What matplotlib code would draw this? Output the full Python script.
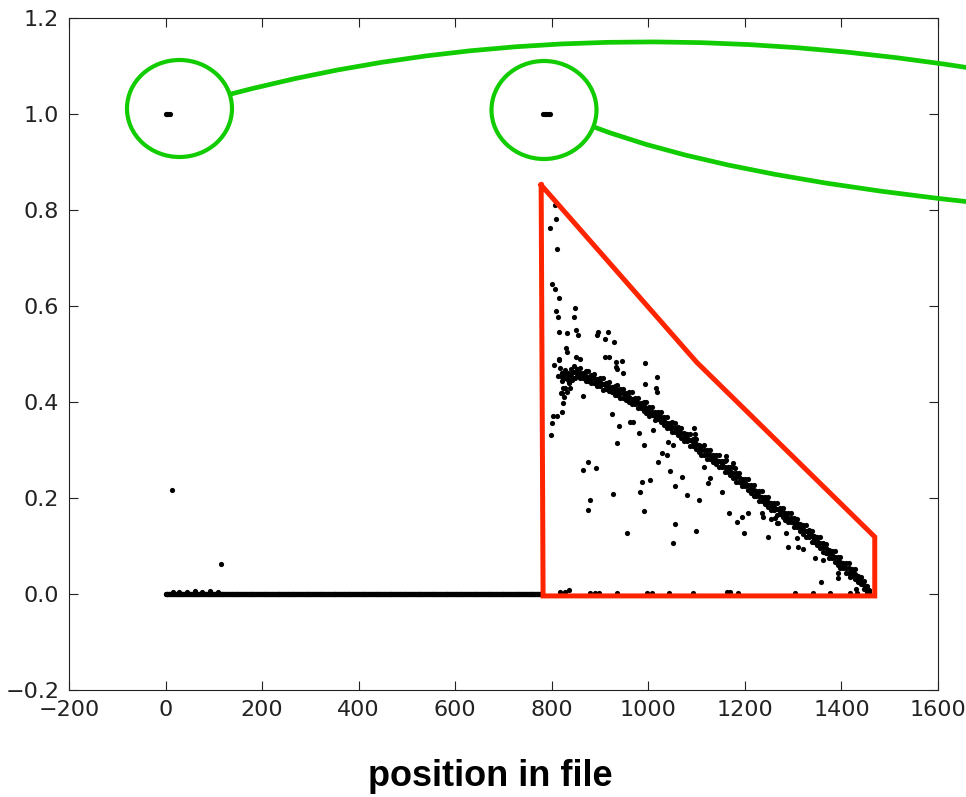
import numpy as np
import matplotlib
matplotlib.use("Agg")
import matplotlib.pyplot as plt
from matplotlib.patches import Ellipse, PathPatch
from matplotlib.path import Path

# --- data ------------------------------------------------------------------
# positions with score 1.0
ones_x = [0, 3, 6, 9, 781, 785, 789, 793, 797]
ones_y = [1.0] * len(ones_x)

# run of positions that all score 0
zero_first, zero_last = 0, 780

# small bumps just above zero
bump_pts = [(16, 0.005), (28, 0.004), (45, 0.004), (61, 0.006), (75, 0.004),
            (92, 0.006), (109, 0.005),
            (818, 0.005), (827, 0.004), (836, 0.008), (880, 0.003), (889, 0.003),
            (898, 0.003), (935, 0.002), (997, 0.003), (1007, 0.003), (1043, 0.003),
            (1093, 0.003), (1163, 0.004), (1169, 0.004), (1186, 0.003),
            (1303, 0.003), (1341, 0.003), (1376, 0.003), (1417, 0.003), (1432, 0.003)]

# dense descending band: (position, upper, middle, lower score)
band = [
    (822, 0.460, 0.452, 0.444), (828, 0.467, 0.458, 0.449), (834, 0.461, 0.453, 0.446),
    (840, 0.468, 0.459, 0.450), (846, 0.475, 0.462, 0.450), (852, 0.468, 0.461, 0.455),
    (858, 0.471, 0.460, 0.449), (864, 0.461, 0.456, 0.450), (870, 0.464, 0.455, 0.444),
    (876, 0.465, 0.453, 0.444), (882, 0.457, 0.448, 0.440), (888, 0.458, 0.449, 0.440),
    (894, 0.448, 0.441, 0.433), (900, 0.450, 0.442, 0.433), (906, 0.451, 0.438, 0.426),
    (912, 0.440, 0.433, 0.427), (918, 0.442, 0.432, 0.423), (924, 0.432, 0.427, 0.420),
    (930, 0.434, 0.424, 0.414), (936, 0.435, 0.424, 0.415), (942, 0.427, 0.418, 0.408),
    (948, 0.428, 0.418, 0.409), (954, 0.418, 0.412, 0.405), (960, 0.420, 0.411, 0.401),
    (966, 0.420, 0.407, 0.395), (972, 0.408, 0.402, 0.396), (978, 0.409, 0.397, 0.387),
    (984, 0.398, 0.393, 0.388), (990, 0.399, 0.391, 0.382), (996, 0.399, 0.388, 0.377),
    (1002, 0.390, 0.381, 0.371), (1008, 0.390, 0.380, 0.372), (1014, 0.379, 0.371, 0.363),
    (1020, 0.380, 0.372, 0.364), (1026, 0.380, 0.368, 0.358), (1032, 0.369, 0.361, 0.352),
    (1038, 0.369, 0.357, 0.346), (1044, 0.357, 0.351, 0.346), (1050, 0.358, 0.348, 0.337),
    (1056, 0.357, 0.346, 0.337), (1062, 0.347, 0.339, 0.331), (1068, 0.346, 0.335, 0.325),
    (1074, 0.335, 0.327, 0.319), (1080, 0.334, 0.326, 0.319), (1086, 0.334, 0.321, 0.309),
    (1092, 0.323, 0.316, 0.309), (1098, 0.322, 0.312, 0.302), (1104, 0.310, 0.303, 0.296),
    (1110, 0.309, 0.299, 0.289), (1116, 0.310, 0.300, 0.290), (1122, 0.300, 0.291, 0.281),
    (1128, 0.300, 0.290, 0.282), (1134, 0.289, 0.283, 0.276), (1140, 0.289, 0.280, 0.271),
    (1146, 0.289, 0.277, 0.264), (1152, 0.278, 0.271, 0.264), (1158, 0.277, 0.265, 0.254),
    (1164, 0.265, 0.259, 0.254), (1170, 0.264, 0.256, 0.247), (1176, 0.264, 0.252, 0.241),
    (1182, 0.253, 0.243, 0.234), (1188, 0.252, 0.243, 0.234), (1194, 0.240, 0.232, 0.224),
    (1200, 0.239, 0.231, 0.224), (1206, 0.239, 0.228, 0.217), (1212, 0.228, 0.219, 0.211),
    (1218, 0.227, 0.216, 0.204), (1224, 0.215, 0.209, 0.204), (1230, 0.214, 0.204, 0.194),
    (1236, 0.214, 0.203, 0.194), (1242, 0.203, 0.195, 0.187), (1248, 0.202, 0.191, 0.181),
    (1254, 0.190, 0.182, 0.174), (1260, 0.189, 0.181, 0.174), (1266, 0.190, 0.177, 0.165),
    (1272, 0.180, 0.173, 0.166), (1278, 0.180, 0.170, 0.160), (1284, 0.169, 0.162, 0.155),
    (1290, 0.169, 0.159, 0.149), (1296, 0.169, 0.158, 0.149), (1302, 0.158, 0.148, 0.139),
    (1308, 0.157, 0.147, 0.139), (1314, 0.145, 0.139, 0.132), (1320, 0.144, 0.135, 0.126),
    (1326, 0.144, 0.131, 0.119), (1332, 0.133, 0.126, 0.119), (1338, 0.132, 0.121, 0.109),
    (1344, 0.120, 0.114, 0.109), (1350, 0.119, 0.111, 0.102), (1356, 0.118, 0.106, 0.095),
    (1362, 0.106, 0.097, 0.087), (1368, 0.104, 0.095, 0.086), (1374, 0.091, 0.083, 0.075),
    (1380, 0.089, 0.081, 0.074), (1386, 0.089, 0.078, 0.067), (1392, 0.078, 0.069, 0.061),
    (1398, 0.077, 0.066, 0.054), (1404, 0.065, 0.059, 0.054), (1410, 0.064, 0.054, 0.044),
    (1416, 0.064, 0.054, 0.044), (1422, 0.053, 0.045, 0.037), (1428, 0.052, 0.041, 0.031),
    (1434, 0.038, 0.031, 0.024), (1440, 0.035, 0.027, 0.020), (1446, 0.028, 0.019, 0.010),
    (1452, 0.016, 0.010, 0.004), (1458, 0.009, 0.005, 0.001),
]

# scattered points off the band
scatter_pts = [
    (13.5, 0.217), (115, 0.0625),
    (797, 0.763), (807, 0.81), (809, 0.781), (811, 0.719), (801, 0.646), (807, 0.635),
    (815, 0.617), (809, 0.59), (813, 0.578), (848, 0.596), (846, 0.578), (814, 0.546),
    (832, 0.544), (829, 0.512), (831, 0.505), (851, 0.551), (854, 0.54), (896, 0.546),
    (894, 0.540), (917, 0.546), (910, 0.531), (929, 0.526), (851, 0.494), (858, 0.49),
    (814, 0.49), (910, 0.494), (918, 0.494), (933, 0.484), (945, 0.486), (933, 0.473),
    (935, 0.468), (993, 0.482), (947, 0.46), (1017, 0.452), (993, 0.4375), (1016, 0.43),
    (1017, 0.421), (805, 0.477), (814, 0.4875), (821, 0.46), (823, 0.455),
    (812, 0.455), (818, 0.47), (824, 0.43), (826, 0.41), (832, 0.42), (836, 0.44),
    (842, 0.445), (848, 0.45),
    (821, 0.418), (828, 0.429), (838, 0.429), (824, 0.398), (821, 0.38), (803, 0.371),
    (810, 0.371), (800, 0.356), (798, 0.331), (819, 0.418), (864, 0.4125), (925, 0.375),
    (939, 0.35), (962, 0.359), (968, 0.359), (981, 0.335), (1010, 0.342),
    (935, 0.315), (991, 0.31), (1028, 0.294), (1038, 0.29), (1020, 0.276), (1045, 0.256),
    (1041, 0.317), (1051, 0.31), (875, 0.276), (864, 0.258), (891, 0.262), (986, 0.233),
    (1003, 0.2375), (982, 0.213), (927, 0.208), (879, 0.196), (874, 0.175), (991, 0.1735),
    (1055, 0.2256), (1055, 0.146), (955, 0.127), (1051, 0.107),
    (1095, 0.3465), (1097, 0.333), (1097, 0.323), (1069, 0.244), (1080, 0.206),
    (1105, 0.196), (1098, 0.131), (1152, 0.213), (1115, 0.265), (1127, 0.242),
    (1123, 0.232), (1160, 0.2875), (1161, 0.28), (1175, 0.273), (1179, 0.2625),
    (1167, 0.169), (1183, 0.15), (1194, 0.161), (1206, 0.169), (1198, 0.127),
    (1235, 0.169), (1237, 0.161), (1248, 0.119), (1255, 0.156), (1269, 0.148),
    (1262, 0.158), (1266, 0.148), (1286, 0.127), (1290, 0.098), (1307, 0.117),
    (1310, 0.0985), (1321, 0.094), (1345, 0.075), (1362, 0.071), (1358, 0.026),
    (1393, 0.044), (1393, 0.033), (1418, 0.036), (1431, 0.01),
]

# red outline around the descending region (data coords)
region_x = [778, 1100, 1469, 1469, 782, 778]
region_y = [0.852, 0.483, 0.119, -0.004, -0.004, 0.852]

x_ticks = [-200, 0, 200, 400, 600, 800, 1000, 1200, 1400, 1600]
y_ticks = [-0.2, 0.0, 0.2, 0.4, 0.6, 0.8, 1.0, 1.2]

# --- collect everything into x / y arrays ---------------------------------
zero_x = np.arange(zero_first, zero_last + 1)
zero_y = np.zeros(len(zero_x))
band_x = [b[0] for b in band]
band_y = [[b[i] for b in band] for i in (1, 2, 3)]

xs = np.concatenate([ones_x, zero_x, [p[0] for p in bump_pts],
                     band_x, band_x, band_x, [p[0] for p in scatter_pts]])
ys = np.concatenate([ones_y, zero_y, [p[1] for p in bump_pts],
                     band_y[0], band_y[1], band_y[2], [p[1] for p in scatter_pts]])

W, H, DPI = 966, 797, 100
fig = plt.figure(figsize=(W / DPI, H / DPI), dpi=DPI)
ax = fig.add_axes([69 / W, 1 - 690 / H, (938 - 69) / W, (690 - 18) / H])

ax.scatter(xs, ys, s=14, c="black", linewidths=0)

ax.set_xlim(-200, 1600)
ax.set_ylim(-0.2, 1.2)
ax.set_xticks(x_ticks)
ax.set_yticks(y_ticks)
ax.tick_params(direction="in", top=True, right=True, length=6.5, width=0.8,
               labelsize=16, pad=7, colors="#222222")
for sp in ax.spines.values():
    sp.set_linewidth(0.8)
    sp.set_color("#222222")

# red outline
ax.plot(region_x, region_y, color="#ff2400", lw=3.6, clip_on=False,
        solid_joinstyle="miter")

# green call-outs drawn in pixel space so they can run off the right edge
ov = fig.add_axes([0, 0, 1, 1], facecolor="none")
ov.set_xlim(0, W)
ov.set_ylim(H, 0)
ov.axis("off")
green = "#11cc00"
ov.add_patch(Ellipse((179.5, 108.5), 105, 97, fill=False, ec=green, lw=3))
ov.add_patch(Ellipse((544, 110), 105, 98, fill=False, ec=green, lw=3))
top_curve = Path([(231, 94), (568, 5), (970, 68)],
                 [Path.MOVETO, Path.CURVE3, Path.CURVE3])
low_curve = Path([(594, 127), (720, 175), (970, 202)],
                 [Path.MOVETO, Path.CURVE3, Path.CURVE3])
ov.add_patch(PathPatch(top_curve, fill=False, ec=green, lw=3.4))
ov.add_patch(PathPatch(low_curve, fill=False, ec=green, lw=3.4))

fig.text(490 / W, 1 - 776 / H, "position in file", ha="center", va="center",
         fontsize=26, fontweight="bold", family="Liberation Sans")

fig.savefig("out.png", dpi=DPI)
